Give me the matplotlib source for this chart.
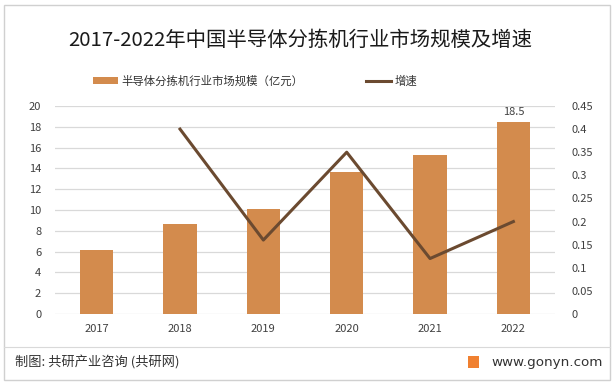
import matplotlib.pyplot as plt
import numpy as np
from matplotlib.patches import Rectangle

plt.rcParams['font.family'] = ['Noto Sans CJK SC', 'DejaVu Sans']

# data
years = ['2017', '2018', '2019', '2020', '2021', '2022']
market_size = [6.2, 8.7, 10.1, 13.65, 15.3, 18.5]   # 亿元
growth_years = ['2018', '2019', '2020', '2021', '2022']
growth = [0.40, 0.16, 0.35, 0.12, 0.20]
left_ticks = [0, 2, 4, 6, 8, 10, 12, 14, 16, 18, 20]
right_ticks = [0, 0.05, 0.1, 0.15, 0.2, 0.25, 0.3, 0.35, 0.4, 0.45]

bar_color = '#D38B4D'
line_color = '#6B4A30'
text_color = '#404040'

fig = plt.figure(figsize=(6.14, 3.85), dpi=100)
ax = fig.add_axes([0.0896, 0.1844, 0.8144, 0.5403])

x = np.arange(len(years))
ax.bar(x, market_size, width=0.4, color=bar_color, zorder=2,
       label='半导体分拣机行业市场规模（亿元）')
ax.set_xlim(-0.5, len(years) - 0.5)
ax.set_ylim(0, 20)
ax.set_yticks(left_ticks)
ax.set_xticks(x)
ax.set_xticklabels(years)
ax.yaxis.grid(True, color='#D9D9D9', linewidth=0.9, zorder=0)
ax.set_axisbelow(True)
for s in ax.spines.values():
    s.set_visible(False)
ax.tick_params(axis='both', length=0, labelsize=8, colors=text_color, pad=10)
ax.tick_params(axis='x', pad=7)
ax.text(x[-1], market_size[-1] + 0.4, '18.5', ha='center', va='bottom',
        fontsize=8, color=text_color)

ax2 = ax.twinx()
gx = [years.index(y) for y in growth_years]
ax2.plot(gx, growth, color=line_color, linewidth=2.2, zorder=3, label='增速')
ax2.set_ylim(0, 0.45)
ax2.set_yticks(right_ticks)
ax2.set_yticklabels([f'{t:g}' for t in right_ticks])
for s in ax2.spines.values():
    s.set_visible(False)
ax2.tick_params(axis='y', length=0, labelsize=8, colors=text_color, pad=12)

fig.text(0.489, 0.895, '2017-2022年中国半导体分拣机行业市场规模及增速',
         ha='center', va='center', fontsize=14.7, color='#1a1a1a')

h1, l1 = ax.get_legend_handles_labels()
h2, l2 = ax2.get_legend_handles_labels()
fig.legend(h1 + h2, l1 + l2, loc='center', bbox_to_anchor=(0.415, 0.79),
           ncol=2, frameon=False, fontsize=8.2, handlelength=2.2,
           handleheight=0.6, handletextpad=0.3, columnspacing=5.5,
           labelcolor='#333333')

# outer frame and footer
fig.patches.append(Rectangle((0.007, 0.013), 0.986, 0.975, transform=fig.transFigure,
                             fill=False, edgecolor='#D0D0D0', linewidth=1))
fig.add_artist(plt.Line2D([0.007, 0.993], [0.1, 0.1], transform=fig.transFigure,
                          color='#D9D9D9', linewidth=0.8))
fig.text(0.025, 0.058, '制图: 共研产业咨询 (共研网)', ha='left', va='center',
         fontsize=9.5, color='#333333')
fig.text(0.982, 0.058, 'www.gonyn.com', ha='right', va='center',
         fontsize=9.7, color='#333333', family='DejaVu Sans')
fig.patches.append(Rectangle((0.762, 0.045), 0.018, 0.03, transform=fig.transFigure,
                             facecolor='#F08030', edgecolor='none'))

fig.savefig('out.png', dpi=100)
